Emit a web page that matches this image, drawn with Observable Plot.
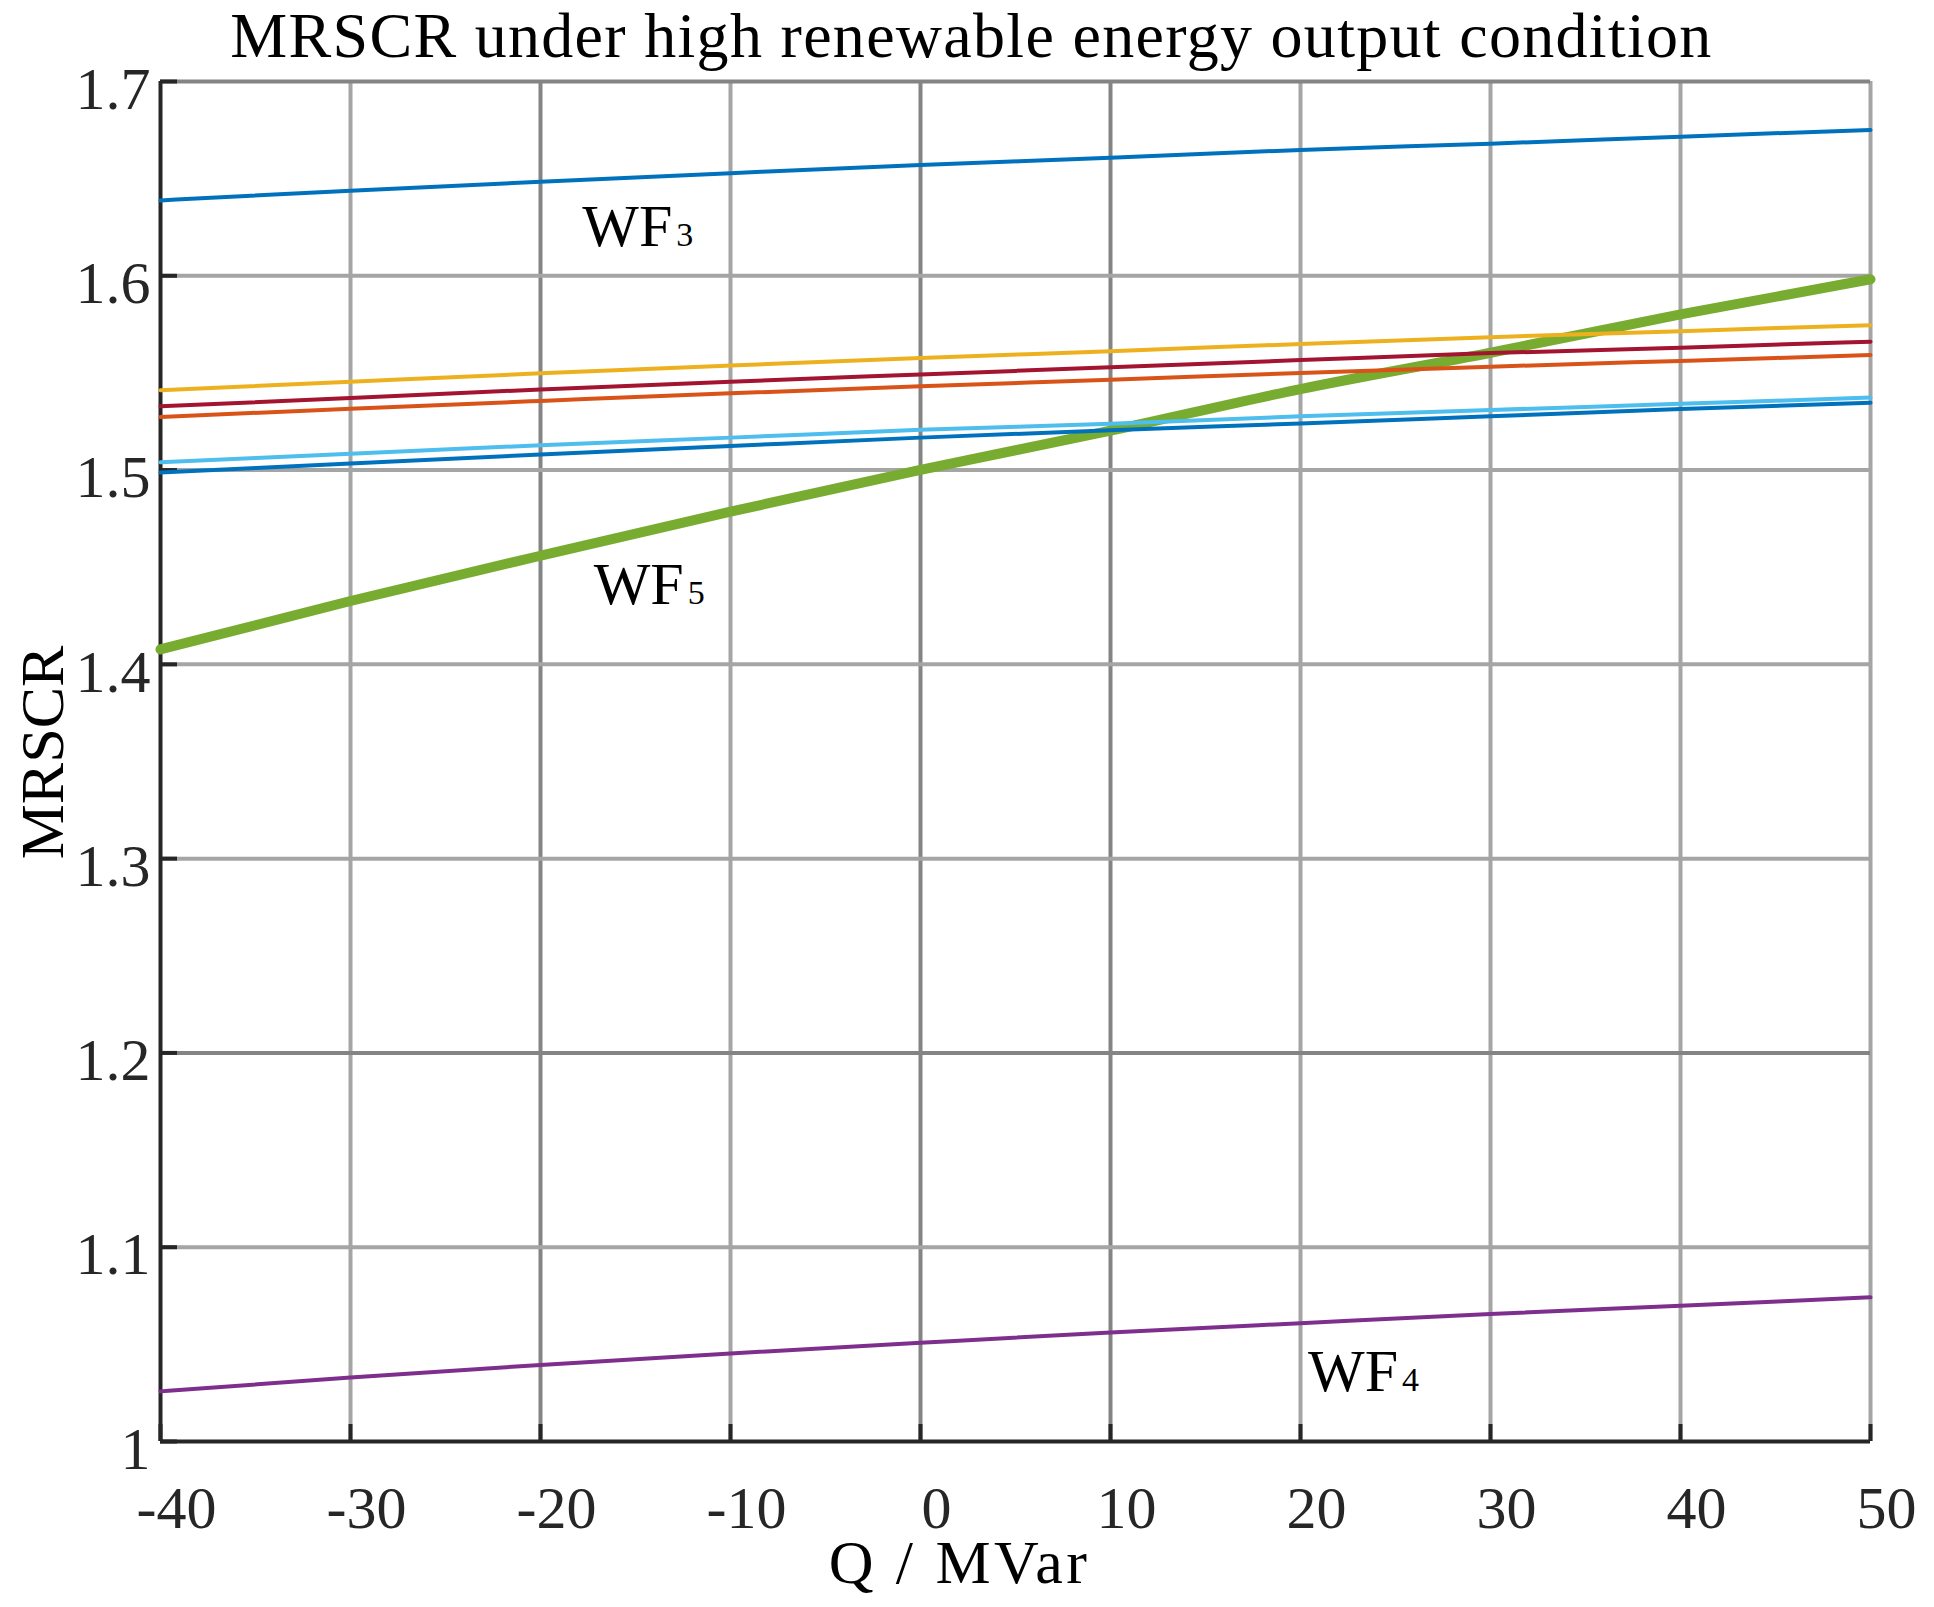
<!DOCTYPE html>
<html>
<head>
<meta charset="utf-8">
<script src="https://cdn.jsdelivr.net/npm/d3@7"></script>
<script src="https://cdn.jsdelivr.net/npm/@observablehq/plot@0.6"></script>
<style>
  html, body { margin: 0; padding: 0; background: #fff; }
</style>
</head>
<body>
<div id="chart"></div>
<script>
// ---- data ----
const q = [-40, -30, -20, -10, 0, 10, 20, 30, 40, 50];

const wf3           = [1.6388, 1.6438, 1.6484, 1.6528, 1.6570, 1.6607, 1.6648, 1.6680, 1.6716, 1.6751];
const lineYellow    = [1.5411, 1.5455, 1.5498, 1.5538, 1.5577, 1.5612, 1.5649, 1.5684, 1.5715, 1.5746];
const lineDarkRed   = [1.5328, 1.5371, 1.5415, 1.5455, 1.5492, 1.5529, 1.5566, 1.5602, 1.5630, 1.5661];
const lineOrange    = [1.5273, 1.5316, 1.5356, 1.5395, 1.5431, 1.5465, 1.5500, 1.5532, 1.5562, 1.5592];
const lineLightBlue = [1.5040, 1.5084, 1.5128, 1.5167, 1.5207, 1.5238, 1.5277, 1.5309, 1.5341, 1.5373];
const lineBlue      = [1.4988, 1.5034, 1.5080, 1.5124, 1.5167, 1.5205, 1.5240, 1.5277, 1.5314, 1.5347];
const wf5           = [1.4077, 1.4326, 1.4559, 1.4786, 1.5001, 1.5203, 1.5417, 1.5604, 1.5801, 1.5982];
const wf4           = [1.0258, 1.0329, 1.0394, 1.0453, 1.0508, 1.0561, 1.0609, 1.0656, 1.0699, 1.0742];

const seriesNames  = ["WF5", "WF3", "Yellow", "DarkRed", "Orange", "LightBlue", "Blue", "WF4"];
const seriesValues = [wf5, wf3, lineYellow, lineDarkRed, lineOrange, lineLightBlue, lineBlue, wf4];
const seriesColors = ["#77AC30", "#0072BD", "#EDB120", "#A2142F", "#D95319", "#4DBEEE", "#0072BD", "#7E2F8E"];
const seriesWidths = [10, 4, 4, 4, 4, 4, 4, 4];

const xTicks = [-40, -30, -20, -10, 0, 10, 20, 30, 40, 50];
const xTickLabels = ["-40", "-30", "-20", "-10", "0", "10", "20", "30", "40", "50"];
const yTicks = [1, 1.1, 1.2, 1.3, 1.4, 1.5, 1.6, 1.7];
const yTickLabels = ["1", "1.1", "1.2", "1.3", "1.4", "1.5", "1.6", "1.7"];
const darkGridX = [-20, 0, 10];
const darkGridY = [1.2, 1.7];

const labelNames = ["WF3", "WF5", "WF4"];
const labelQ = [-17.8, -17.2, 20.4];
const labelV = [1.6151, 1.4313, 1.0258];

const titleText = "MRSCR under high renewable energy output condition";
const xLabel = "Q / MVar";
const yLabel = "MRSCR";

// ---- build ----
const rows = seriesNames.flatMap((name, i) =>
  q.map((x, j) => ({series: name, q: x, v: seriesValues[i][j]})));
const labels = labelNames.map((t, i) => ({t, q: labelQ[i], v: labelV[i]}));

const W = 1934, H = 1607, mL = 160, mR = 64, mT = 81, mB = 166;
const frameW = W - mL - mR, frameH = H - mT - mB;
const tickLen = 17;
const font = "'Liberation Serif', 'Times New Roman', serif";

const lineMarks = seriesNames.map((name, i) =>
  Plot.line(rows.filter(d => d.series === name), {
    x: "q", y: "v", stroke: seriesColors[i], strokeWidth: seriesWidths[i], curve: "monotone-x"
  }));

const chart = Plot.plot({
  width: W, height: H,
  marginLeft: mL, marginRight: mR, marginTop: mT, marginBottom: mB,
  x: {domain: [-40, 50], axis: null},
  y: {domain: [1, 1.7], axis: null},
  style: {fontFamily: font, background: "#fff", color: "#262626"},
  marks: [
    // grid
    Plot.ruleX(xTicks.filter(d => d !== -40 && !darkGridX.includes(d)), {stroke: "#a5a5a5", strokeWidth: 4}),
    Plot.ruleX(darkGridX, {stroke: "#848484", strokeWidth: 4}),
    Plot.ruleY(yTicks.filter(d => d !== 1 && !darkGridY.includes(d)), {stroke: "#a5a5a5", strokeWidth: 4}),
    Plot.ruleY(darkGridY, {stroke: "#848484", strokeWidth: 4}),
    // axes
    Plot.ruleX([-40], {stroke: "#262626", strokeWidth: 4}),
    Plot.ruleY([1], {stroke: "#262626", strokeWidth: 4}),
    Plot.ruleX(xTicks, {stroke: "#262626", strokeWidth: 4, insetTop: frameH - tickLen}),
    Plot.ruleY(yTicks, {stroke: "#262626", strokeWidth: 4, insetRight: frameW - tickLen}),
    // tick labels
    Plot.text(xTicks, {x: d => d, y: 1, text: (d, i) => xTickLabels[i], lineAnchor: "top",
      dy: 44, dx: 16, fontSize: 60, fill: "#262626"}),
    Plot.text(yTicks, {x: -40, y: d => d, text: (d, i) => yTickLabels[i], textAnchor: "end",
      dx: -10, dy: 8, fontSize: 60, fill: "#262626"}),
    // series
    ...lineMarks,
    // series labels
    Plot.text(labels, {x: "q", y: "v", text: "t", textAnchor: "start", lineAnchor: "bottom",
      fontSize: 60, fill: "#000"}),
    // titles
    Plot.text([titleText], {frameAnchor: "top", textAnchor: "middle", lineAnchor: "bottom", dx: -44, dy: -25,
      fontSize: 64, fill: "#000"}),
    Plot.text([xLabel], {frameAnchor: "bottom", textAnchor: "middle", lineAnchor: "bottom", dx: -56, dy: 141,
      fontSize: 62, fill: "#000"}),
    Plot.text([yLabel], {frameAnchor: "left", textAnchor: "middle", lineAnchor: "bottom", rotate: -90,
      dx: -98, dy: -9, fontSize: 62, fill: "#000"})
  ]
});

// text post-processing: subscript digits, letter spacing for the wider reference serif
d3.select(chart).selectAll("text").each(function() {
  const s = this.textContent;
  const el = d3.select(this);
  if (s === titleText) el.style("letter-spacing", "1.3px");
  if (s === xLabel) el.style("letter-spacing", "3.4px");
  const m = s.match(/^(WF)(\d+)$/);
  if (!m) return;
  el.text(m[1]);
  el.append("tspan").attr("font-size", 34).attr("dx", 4).text(m[2]);
});

document.getElementById("chart").appendChild(chart);
</script>
</body>
</html>
